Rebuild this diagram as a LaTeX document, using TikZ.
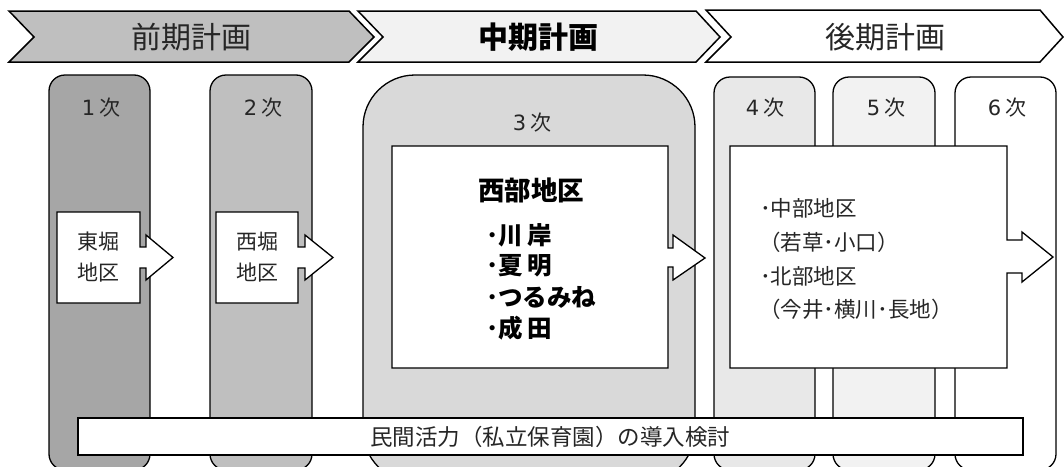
\documentclass[tikz,border=0pt]{standalone}
\usepackage{fontspec}
\setmainfont{Noto Sans CJK JP}
\newfontfamily\latn{DejaVu Sans}
\definecolor{g1}{HTML}{A6A6A6}
\definecolor{g2}{HTML}{BFBFBF}
\definecolor{g3}{HTML}{D9D9D9}
\definecolor{g4}{HTML}{E8E8E8}
\definecolor{g5}{HTML}{F2F2F2}
\definecolor{tx}{HTML}{262626}
\begin{document}
\begin{tikzpicture}[x=1pt,y=-1pt,
  chev/.style={draw=black, line width=1.5pt, line join=miter},
  colbox/.style={draw=black, line width=1.3pt, rounded corners=16pt},
  arrbox/.style={draw=black, line width=1.3pt, fill=white, line join=miter},
  bar/.style={draw=black, line width=1.5pt, fill=white},
  chevtxt/.style={inner sep=0pt, text=tx, font=\fontsize{30}{32}\selectfont},
  coltxt/.style={inner sep=0pt, text=tx, font=\fontsize{21}{24}\selectfont},
  boxtxt/.style={inner sep=0pt, text=tx, align=center, font=\fontsize{21}{31}\selectfont},
  itemtxt/.style={inner sep=0pt, anchor=west, font=\fontsize{24.5}{26}\selectfont\bfseries},
  ltxt/.style={inner sep=0pt, text=tx, anchor=west, font=\fontsize{21.5}{23}\selectfont}]
\useasboundingbox (0,0) rectangle (1064,466);
\clip (0,0) rectangle (1064,466);
% chevrons
\draw[chev, fill=g2] (9,11) -- (349,11) -- (374,37) -- (349,62) -- (9,62) -- (34,37) -- cycle;
\draw[chev, fill=g5] (358,11) -- (696,11) -- (720,37) -- (696,62) -- (358,62) -- (383,37) -- cycle;
\draw[chev, fill=white] (706,10) -- (1040,10) -- (1063,37) -- (1040,62) -- (706,62) -- (731,37) -- cycle;
\node[chevtxt] (p1) at (191,37) {前期計画};
\node[chevtxt, text=black, font=\fontsize{30}{32}\selectfont\bfseries] (p2) at (538,37) {中期計画};
\node[chevtxt] (p3) at (885,37) {後期計画};
% columns
\draw[colbox, fill=g1] (49,75) rectangle (150,470);
\draw[colbox, fill=g2] (210,75) rectangle (312,470);
\draw[colbox, fill=g3, rounded corners=52pt] (363,75) rectangle (695,482);
\draw[colbox, fill=g4] (714,77) rectangle (815,470);
\draw[colbox, fill=g5] (833,77) rectangle (935,470);
\draw[colbox, fill=white] (955,77) rectangle (1056,470);
\node[coltxt] (k1) at (101,108) {{\latn 1}\hspace{4pt}次};
\node[coltxt] (k2) at (263,108) {{\latn 2}\hspace{4pt}次};
\node[coltxt] (k3) at (532,123) {{\latn 3}\hspace{4pt}次};
\node[coltxt] (k4) at (765,108) {{\latn 4}\hspace{4pt}次};
\node[coltxt] (k5) at (886,108) {{\latn 5}\hspace{4pt}次};
\node[coltxt] (k6) at (1007,108) {{\latn 6}\hspace{4pt}次};
% arrow boxes
\draw[arrbox] (57,212) -- (140,212) -- (140,247) -- (146,247) -- (146,235) -- (173,257.5)
  -- (146,280) -- (146,268) -- (140,268) -- (140,303) -- (57,303) -- cycle;
\draw[arrbox] (216,212) -- (298,212) -- (298,247) -- (305,247) -- (305,235) -- (333,257.5)
  -- (305,280) -- (305,268) -- (298,268) -- (298,303) -- (216,303) -- cycle;
\draw[arrbox] (392,146) -- (668,146) -- (668,248) -- (673,248) -- (673,235) -- (705,258)
  -- (673,280) -- (673,267) -- (668,267) -- (668,368) -- (392,368) -- cycle;
\draw[arrbox] (730,146) -- (1007,146) -- (1007,240) -- (1022,240) -- (1022,232) -- (1053,257)
  -- (1022,282) -- (1022,273) -- (1007,273) -- (1007,368) -- (730,368) -- cycle;
\node[boxtxt] (a1) at (98,257) {東堀\\地区};
\node[boxtxt] (a2) at (257,257) {西堀\\地区};
\node[inner sep=0pt, font=\fontsize{26.5}{28}\selectfont\bfseries] (w0) at (531,190) {西部地区};
\node[itemtxt] (w1) at (486,235) {･川\hspace{5pt}岸};
\node[itemtxt] (w2) at (486,266) {･夏\hspace{5pt}明};
\node[itemtxt] (w3) at (486,297) {･つるみね};
\node[itemtxt] (w4) at (486,328) {･成\hspace{5pt}田};
\node[ltxt] (m1) at (760,208) {･中部地区};
\node[ltxt] (m2) at (759,242) {（若草･小口）};
\node[ltxt] (m3) at (760,276) {･北部地区};
\node[ltxt] (m4) at (759,309) {（今井･横川･長地）};
% bottom bar
\draw[bar] (78,418) rectangle (1023,455);
\node[inner sep=0pt, text=tx, font=\fontsize{22.5}{24}\selectfont] (b) at (550,436.5) {民間活力（私立保育園）の導入検討};
\end{tikzpicture}
\end{document}
